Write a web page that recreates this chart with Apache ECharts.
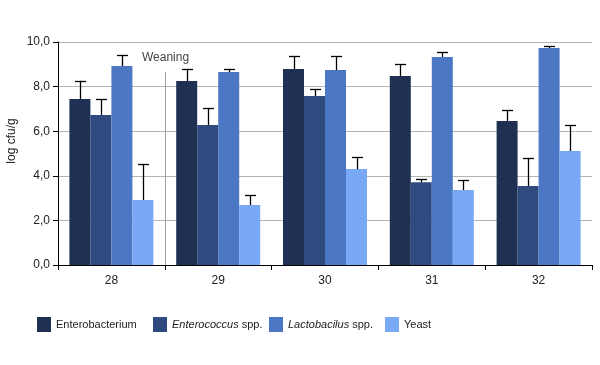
<!DOCTYPE html>
<html><head><meta charset="utf-8">
<script src="https://cdn.jsdelivr.net/npm/echarts@6/dist/echarts.min.js"></script>
<style>html,body{margin:0;padding:0;background:#fff}#c{width:600px;height:365px}</style>
</head><body><div id="c"></div>
<script>
var categories = ['28', '29', '30', '31', '32'];
var seriesNames = ['Enterobacterium', 'Enterococcus spp.', 'Lactobacilus spp.', 'Yeast'];
var enterobacterium = [7.44, 8.25, 8.79, 8.48, 6.46];
var enterococcus = [6.73, 6.28, 7.58, 3.71, 3.54];
var lactobacilus = [8.92, 8.65, 8.74, 9.33, 9.73];
var yeast = [2.91, 2.69, 4.30, 3.36, 5.11];
var errEnterobacterium = [0.82, 0.55, 0.57, 0.52, 0.48];
var errEnterococcus = [0.70, 0.75, 0.30, 0.13, 1.26];
var errLactobacilus = [0.48, 0.15, 0.62, 0.21, 0.08];
var errYeast = [1.61, 0.44, 0.53, 0.44, 1.15];
var yTicks = [0, 2, 4, 6, 8, 10];
var annotationLabel = 'Weaning';
var annotationAfter = '28';
var annotationTop = 8.65;

var colors = ['#1f3052', '#2e4a7f', '#4b77c5', '#78a8f6'];
var values = [enterobacterium, enterococcus, lactobacilus, yeast];
var errors = [errEnterobacterium, errEnterococcus, errLactobacilus, errYeast];
var BAR_W = 21;
var LEG_FONT = '"Liberation Sans", Arial';

var chart = echarts.init(document.getElementById('c'), null, {renderer: 'canvas'});
var series = [];
values.forEach(function (v, i) {
  series.push({
    name: seriesNames[i], type: 'bar', data: v, barWidth: BAR_W, barGap: '0%',
    itemStyle: {color: colors[i]}, z: 2
  });
});
values.forEach(function (v, i) {
  series.push({
    type: 'custom', name: 'err' + i, z: 5, silent: true,
    data: v.map(function (val, k) { return [k, val, val + errors[i][k]]; }),
    renderItem: function (params, api) {
      var base = api.coord([api.value(0), api.value(1)]);
      var top = api.coord([api.value(0), api.value(2)]);
      var x = Math.round(base[0] + (i - 1.5) * BAR_W) + 0.5;
      var cap = 5.5;
      return {
        type: 'group',
        children: [
          {type: 'line', shape: {x1: x, y1: base[1], x2: x, y2: top[1]}, style: {stroke: '#000', lineWidth: 1.3}},
          {type: 'line', shape: {x1: x - cap, y1: Math.round(top[1]) + 0.5, x2: x + cap, y2: Math.round(top[1]) + 0.5}, style: {stroke: '#000', lineWidth: 1.3}}
        ]
      };
    }
  });
});

var legendLefts = [32, 148, 264, 380];
var legends = seriesNames.map(function (n, i) {
  return {
    data: [n], left: legendLefts[i], top: 312, itemWidth: 14, itemHeight: 15,
    icon: 'rect', selectedMode: false,
    textStyle: {
      fontFamily: LEG_FONT, fontSize: 11, color: '#222',
      rich: {it: {fontStyle: 'italic', fontFamily: LEG_FONT, fontSize: 11, color: '#222'}}
    },
    formatter: function (name) {
      var m = name.match(/^(\S+) (spp\.)$/);
      return m ? '{it|' + m[1] + '} ' + m[2] : name;
    }
  };
});

chart.setOption({
  animation: false,
  color: colors,
  grid: {left: 58, right: 8, top: 42, bottom: 100},
  legend: legends,
  xAxis: {
    type: 'category', data: categories,
    axisLine: {lineStyle: {color: '#000', width: 1}},
    axisTick: {show: true, length: 5, lineStyle: {color: '#000'}},
    axisLabel: {color: '#222', fontSize: 12, fontFamily: 'Liberation Sans, Arial', margin: 10},
    splitLine: {show: false}
  },
  yAxis: {
    type: 'value', min: yTicks[0], max: yTicks[yTicks.length - 1], interval: yTicks[1] - yTicks[0],
    axisLine: {show: true, lineStyle: {color: '#000', width: 1}},
    axisTick: {show: true, length: 5, lineStyle: {color: '#000'}},
    axisLabel: {color: '#222', fontSize: 12, fontFamily: 'Liberation Sans, Arial', margin: 8,
      formatter: function (v) { return v.toFixed(1).replace('.', ','); }},
    splitLine: {show: true, lineStyle: {color: '#b4b4b4', width: 1}}
  },
  series: series
});

var idx = categories.indexOf(annotationAfter);
var p0 = chart.convertToPixel({gridIndex: 0}, [idx, 0]);
var p1 = chart.convertToPixel({gridIndex: 0}, [idx + 1, annotationTop]);
var bx = Math.round((p0[0] + p1[0]) / 2) + 0.5;
chart.setOption({
  graphic: [
    {type: 'line', z: 1, shape: {x1: bx, y1: p1[1], x2: bx, y2: p0[1]}, style: {stroke: '#a0a0a0', lineWidth: 1}},
    {type: 'text', z: 10, x: bx, y: p1[1] - 14, style: {text: annotationLabel, fill: '#444', font: '12px "Liberation Sans", Arial', align: 'center', verticalAlign: 'middle'}},
    {type: 'text', x: 12, y: 141, rotation: Math.PI / 2, style: {text: 'log cfu/g', fill: '#222', font: '12px "Liberation Sans", Arial', align: 'center', verticalAlign: 'middle'}}
  ]
});
</script></body></html>
